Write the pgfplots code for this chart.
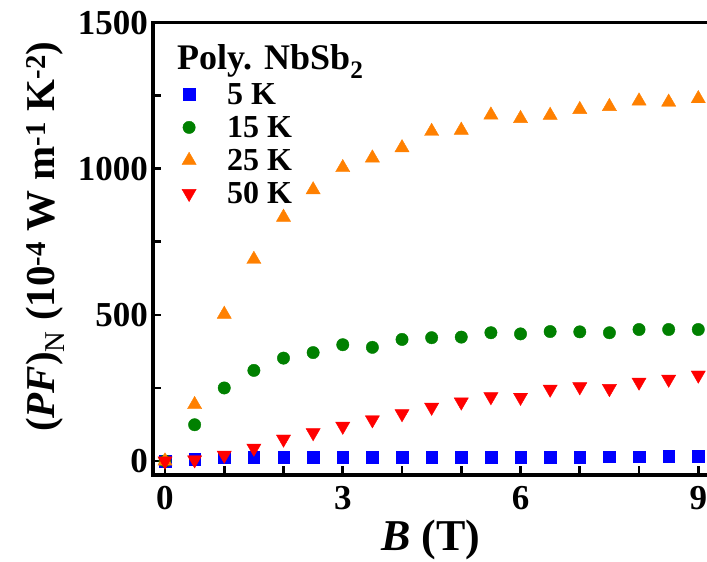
\documentclass[border=0pt]{standalone}
\usepackage{fontspec}
\setmainfont{Liberation Serif}
\usepackage{pgfplots}
\pgfplotsset{compat=1.18}
\definecolor{cblue}{RGB}{0,0,255}
\definecolor{cgreen}{RGB}{0,128,0}
\definecolor{corange}{RGB}{255,128,0}
\definecolor{cred}{RGB}{255,0,0}
\begin{document}
\begin{tikzpicture}
\path[use as bounding box] (-153pt,-87pt) rectangle (554pt,475pt);
\begin{axis}[
  at={(0pt,0pt)}, anchor=south west,
  scale only axis, width=554pt, height=452.3pt,
  xmin=-0.2025, xmax=9.147, ymin=-47.9, ymax=1500,
  axis x line=box, axis y line=left,
  x axis line style={-}, y axis line style={-},
  axis line style={line width=3.3pt, line cap=rect},
  xtick={0,3,6,9}, minor xtick={1,2,4,5,7,8},
  ytick={0,500,1000,1500}, minor ytick={250,750,1250},
  xtick pos=bottom, ytick pos=left,
  tick align=inside,
  major tick length=8.5pt, minor tick length=8.5pt,
  every tick/.style={line width=2.7pt, black},
  /pgf/number format/assume math mode=true,
  /pgf/number format/1000 sep={},
  xticklabel style={font=\fontsize{35}{35}\selectfont\bfseries, inner sep=0pt, anchor=north, yshift=-11pt},
  yticklabel style={font=\fontsize{35}{35}\selectfont\bfseries, inner sep=0pt, anchor=east, xshift=-5pt},
  xlabel={\textit{B} (T)},
  ylabel={(\textit{PF})\textsubscript{\mdseries N} (10\textsuperscript{-4} W m\textsuperscript{-1} K\textsuperscript{-2})},
  xlabel style={font=\fontsize{44}{44}\selectfont\bfseries, at={(axis description cs:0.502,-0.168)}, anchor=base, inner sep=0pt},
  ylabel style={font=\fontsize{41}{41}\selectfont\bfseries, at={(axis description cs:-0.178,0.527)}, anchor=base, inner sep=0pt},
  legend style={at={(axis description cs:0.052,0.864)}, anchor=north west, draw=none, fill=none,
    inner sep=0pt, font=\fontsize{32}{32}\selectfont\bfseries, row sep=13pt,
    nodes={inner sep=0pt, text height=20pt, text depth=0pt},
    /tikz/every odd column/.append style={column sep=31pt}},
  legend cell align=left,
]
\addplot[only marks, mark=square*, mark size=5.8pt, color=cblue] coordinates {
(0,0) (0.5,7) (1,11) (1.5,12) (2,12) (2.5,12) (3,13) (3.5,13) (4,13) (4.5,13) (5,13) (5.5,14) (6,14) (6.5,14) (7,14) (7.5,15) (8,15) (8.5,16) (9,16)};
\addlegendentry{5 K}
\addplot[only marks, mark=*, mark size=6.2pt, color=cgreen] coordinates {
(0,0) (0.5,124) (1,250) (1.5,310) (2,352) (2.5,371) (3,398) (3.5,389) (4,416) (4.5,422) (5,424) (5.5,439) (6,435) (6.5,443) (7,442) (7.5,439) (8,450) (8.5,450) (9,450)};
\addlegendentry{15 K}
\addplot[only marks, mark=triangle*, mark size=8.2pt, color=corange] coordinates {
(0,0) (0.5,193) (1,502) (1.5,690) (2,834) (2.5,928) (3,1004) (3.5,1037) (4,1072) (4.5,1128) (5,1132) (5.5,1184) (6,1172) (6.5,1183) (7,1203) (7.5,1213) (8,1232) (8.5,1228) (9,1240)};
\addlegendentry{25 K}
\addplot[only marks, mark=triangle*, mark size=8.2pt, mark options={rotate=180}, color=cred] coordinates {
(0,0) (0.5,4) (1,20) (1.5,44) (2,75) (2.5,97) (3,119) (3.5,141) (4,162) (4.5,184) (5,202) (5.5,220) (6,218) (6.5,246) (7,254) (7.5,248) (8,270) (8.5,280) (9,294)};
\addlegendentry{50 K}
\end{axis}
\node[anchor=base west, font=\fontsize{36}{36}\selectfont\bfseries, inner sep=0pt] at (24pt,405pt) {Poly. NbSb\textsubscript{2}};
\end{tikzpicture}
\end{document}
